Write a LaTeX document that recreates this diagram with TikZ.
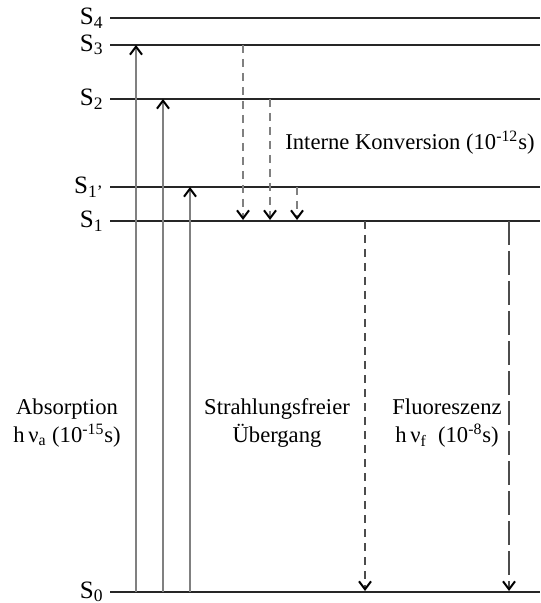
\documentclass[tikz,border=0pt]{standalone}
\usepackage{fontspec}
\setmainfont{Liberation Serif}
\usetikzlibrary{arrows.meta,positioning}

\begin{document}
\begin{tikzpicture}[x=0.5pt,y=-0.5pt,
    font=\fontsize{11.3}{14}\selectfont,
    >={Straight Barb[length=4pt,width=6pt,line width=1pt,color=black]},
    level/.style={draw=black!85,line width=0.55pt},
    lvllabel/.style={anchor=east,inner sep=1pt,font=\fontsize{12.5}{14}\selectfont},
    absarrow/.style={->,draw=gray,line width=0.75pt},
    icarrow/.style={->,draw=gray,dash pattern=on 4pt off 3pt,line width=0.75pt},
    fluoarrow/.style={->,draw=black!70,dash pattern=on 4pt off 3pt,line width=0.6pt},
    longarrow/.style={->,draw=black!70,dash pattern=on 12pt off 3pt,line width=0.6pt},
    txt/.style={align=center,inner sep=0pt}
    ]
    \useasboundingbox (0,0) rectangle (540,603);
    % energy levels
    \node[lvllabel] (S4) at (106,18) {S\textsubscript{4}};
    \node[lvllabel] (S3) at (106,45) {S\textsubscript{3}};
    \node[lvllabel] (S2) at (106,99) {S\textsubscript{2}};
    \node[lvllabel] (S1p) at (106,187) {S\textsubscript{1'}};
    \node[lvllabel] (S1) at (106,221) {S\textsubscript{1}};
    \node[lvllabel] (S0) at (106,592) {S\textsubscript{0}};
    \foreach \n in {S4,S3,S2,S1p,S1,S0}
        \draw[level] (\n.east) ++(4,0) coordinate (\n l) -- (540,0 |- \n.east);
    % absorption
    \coordinate (a3) at (136,592); \coordinate (a3t) at (136,45);
    \coordinate (a2) at (163,592); \coordinate (a2t) at (163,99);
    \coordinate (a1) at (190,592); \coordinate (a1t) at (190,187);
    \draw[absarrow] (a3) -- (a3t);
    \draw[absarrow] (a2) -- (a2t);
    \draw[absarrow] (a1) -- (a1t);
    % internal conversion
    \coordinate (k3) at (243,45); \coordinate (k3t) at (243,220);
    \coordinate (k2) at (270,99); \coordinate (k2t) at (270,220);
    \coordinate (k1) at (297,187); \coordinate (k1t) at (297,220);
    \draw[icarrow] (k3) -- (k3t);
    \draw[icarrow] (k2) -- (k2t);
    \draw[icarrow] (k1) -- (k1t);
    % radiationless and fluorescence
    \coordinate (r) at (365,221); \coordinate (rt) at (365,591);
    \coordinate (f) at (509,221); \coordinate (ft) at (509,591);
    \draw[fluoarrow] (r) -- (rt);
    \draw[longarrow] (f) -- (ft);
    % labels
    \node[txt,anchor=west] (ic) at (285,143) {Interne Konversion (10\textsuperscript{-12}s)};
    \node[txt] (abs) at (67,423) {Absorption\\h\,ν\textsubscript{a} (10\textsuperscript{-15}s)};
    \node[txt] (sf) at (277,423) {Strahlungsfreier\\Übergang};
    \node[txt] (fl) at (447,423) {Fluoreszenz\\h\,ν\textsubscript{f}\enspace(10\textsuperscript{-8}s)};
\end{tikzpicture}
\end{document}
